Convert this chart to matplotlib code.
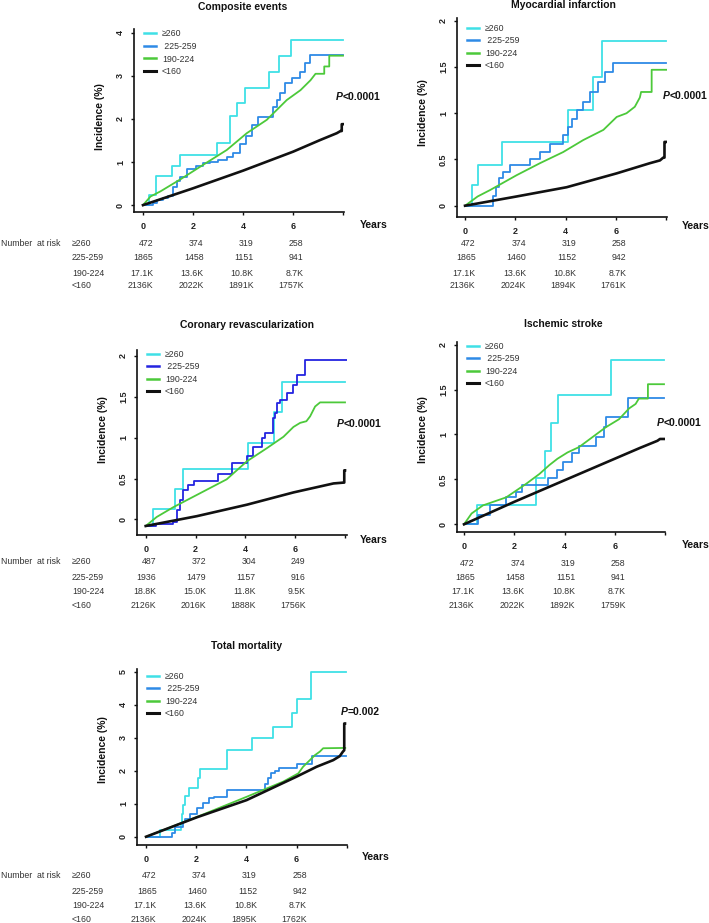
import matplotlib
matplotlib.use('Agg')
import matplotlib.pyplot as plt
from matplotlib.lines import Line2D
import matplotlib.transforms as mtrans

plt.rcParams['font.family'] = ['Liberation Sans', 'DejaVu Sans']

# ---------------- data ----------------
groups = ['\u2265260', ' 225-259', '190-224', '<160']
risk_groups = ['\u2265260', '225-259', '190-224', '<160']
risk_times = [0, 2, 4, 6]

# Panel 1: Composite events
ce_cyan_t = [0, 0.25, 0.52, 1.15, 1.48, 2.95, 3.48, 3.77, 4.08, 5.05, 5.45, 5.9, 8.0]
ce_cyan_v = [0, 0.23, 0.67, 0.91, 1.16, 1.45, 2.08, 2.38, 2.71, 3.08, 3.47, 3.84, 3.84]
ce_blue_t = [0, 0.41, 0.55, 0.8, 1.0, 1.2, 1.35, 1.48, 1.75, 2.1, 2.4, 2.68, 3.0, 3.35, 3.6, 3.88, 4.1, 4.35, 4.6, 5.2, 5.35, 5.48, 5.68, 5.95, 6.28, 6.48, 6.68, 8.0]
ce_blue_v = [0, 0.05, 0.12, 0.17, 0.2, 0.43, 0.55, 0.66, 0.85, 0.9, 0.98, 1.0, 1.05, 1.12, 1.2, 1.43, 1.6, 1.86, 2.05, 2.29, 2.45, 2.6, 2.83, 2.95, 3.1, 3.3, 3.49, 3.49]
ce_green_t = [0, 0.3, 0.7, 1.5, 2.5, 3.35, 4.15, 4.95, 5.75, 6.3, 6.7, 6.9, 7.25, 7.25, 7.45, 7.45, 8.0]
ce_green_v = [0, 0.2, 0.32, 0.6, 0.97, 1.28, 1.67, 1.98, 2.44, 2.67, 2.9, 3.05, 3.05, 3.22, 3.22, 3.47, 3.47]
ce_black_t = [0, 2.0, 4.0, 6.0, 7.08, 7.75, 7.9, 7.95, 7.95, 8.0]
ce_black_v = [0, 0.39, 0.8, 1.24, 1.51, 1.67, 1.72, 1.72, 1.88, 1.88]
ce_risk = [['472', '374', '319', '258'], ['1865', '1458', '1151', '941'],
           ['17.1K', '13.6K', '10.8K', '8.7K'], ['2136K', '2022K', '1891K', '1757K']]

# Panel 2: Myocardial infarction
mi_cyan_t = [0, 0.26, 0.5, 1.48, 4.1, 5.1, 5.43, 8.0]
mi_cyan_v = [0, 0.22, 0.44, 0.69, 1.03, 1.39, 1.78, 1.78]
mi_blue_t = [0, 1.13, 1.25, 1.36, 1.52, 1.79, 2.58, 2.98, 3.38, 3.9, 4.1, 4.24, 4.44, 4.7, 4.97, 5.3, 5.56, 5.89, 8.0]
mi_blue_v = [0, 0.1, 0.2, 0.3, 0.37, 0.44, 0.51, 0.58, 0.67, 0.76, 0.85, 0.94, 1.03, 1.12, 1.23, 1.34, 1.45, 1.54, 1.54]
mi_green_t = [0, 0.5, 1.0, 2.05, 2.98, 3.9, 4.7, 5.5, 6.03, 6.42, 6.75, 6.95, 7.0, 7.42, 7.42, 8.0]
mi_green_v = [0, 0.1, 0.17, 0.33, 0.46, 0.58, 0.71, 0.82, 0.96, 1.0, 1.07, 1.17, 1.23, 1.23, 1.47, 1.47]
mi_black_t = [0, 2.05, 4.04, 6.03, 7.35, 7.75, 7.88, 7.93, 7.93, 7.98]
mi_black_v = [0, 0.1, 0.2, 0.35, 0.46, 0.49, 0.52, 0.52, 0.69, 0.69]
mi_risk = [['472', '374', '319', '258'], ['1865', '1460', '1152', '942'],
           ['17.1K', '13.6K', '10.8K', '8.7K'], ['2136K', '2024K', '1894K', '1761K']]

# Panel 3: Coronary revascularization
cr_cyan_t = [0, 0.28, 1.18, 1.51, 4.12, 5.13, 5.46, 8.0]
cr_cyan_v = [-0.08, 0.13, 0.37, 0.62, 0.94, 1.31, 1.68, 1.68]
cr_blue_t = [0, 0.4, 1.1, 1.25, 1.38, 1.51, 1.7, 1.92, 2.92, 3.45, 4.06, 4.32, 4.66, 4.79, 5.1, 5.18, 5.26, 5.4, 5.66, 5.93, 6.07, 6.4, 8.07]
cr_blue_v = [-0.08, -0.06, -0.03, 0.11, 0.24, 0.36, 0.42, 0.47, 0.55, 0.69, 0.77, 0.89, 0.99, 1.05, 1.24, 1.3, 1.42, 1.46, 1.54, 1.64, 1.77, 1.95, 1.95]
cr_green_t = [0, 0.44, 1.11, 2.18, 3.25, 4.06, 4.86, 5.53, 5.93, 6.2, 6.45, 6.6, 6.8, 7.0, 8.0]
cr_green_v = [-0.08, 0.03, 0.15, 0.32, 0.49, 0.71, 0.87, 1.01, 1.13, 1.18, 1.2, 1.26, 1.38, 1.43, 1.43]
cr_black_t = [0, 2.05, 4.06, 5.93, 7.54, 7.94, 7.97, 7.97, 8.0]
cr_black_v = [-0.08, 0.04, 0.18, 0.33, 0.44, 0.45, 0.45, 0.6, 0.6]
cr_risk = [['487', '372', '304', '249'], ['1936', '1479', '1157', '916'],
           ['18.8K', '15.0K', '11.8K', '9.5K'], ['2126K', '2016K', '1888K', '1756K']]

# Panel 4: Ischemic stroke
is_cyan_t = [0, 0.53, 2.87, 3.24, 3.46, 3.73, 5.84, 7.96]
is_cyan_v = [0, 0.22, 0.52, 0.82, 1.13, 1.44, 1.83, 1.83]
is_blue_t = [0, 0.55, 1.02, 1.68, 2.07, 2.31, 3.33, 3.7, 3.92, 4.29, 4.58, 5.24, 5.57, 5.67, 6.54, 7.96]
is_blue_v = [0, 0.1, 0.22, 0.3, 0.36, 0.44, 0.52, 0.6, 0.69, 0.79, 0.87, 0.97, 1.08, 1.19, 1.41, 1.41]
is_green_t = [0, 0.3, 0.75, 1.68, 2.47, 3.0, 3.4, 3.72, 4.12, 4.58, 5.11, 5.64, 6.17, 6.57, 6.83, 6.96, 7.32, 7.32, 7.96]
is_green_v = [0, 0.12, 0.21, 0.3, 0.45, 0.56, 0.66, 0.73, 0.8, 0.86, 0.97, 1.08, 1.17, 1.29, 1.34, 1.4, 1.4, 1.56, 1.56]
is_black_t = [0, 2.0, 4.0, 6.0, 7.0, 7.7, 7.8, 7.96]
is_black_v = [0, 0.25, 0.49, 0.73, 0.85, 0.93, 0.95, 0.95]
is_risk = [['472', '374', '319', '258'], ['1865', '1458', '1151', '941'],
           ['17.1K', '13.6K', '10.8K', '8.7K'], ['2136K', '2022K', '1892K', '1759K']]

# Panel 5: Total mortality
tm_cyan_t = [0, 0.55, 1.4, 1.45, 1.48, 1.55, 1.7, 2.07, 2.16, 3.22, 4.21, 5.07, 5.8, 6.0, 6.56, 7.99]
tm_cyan_v = [0, 0.2, 0.42, 0.7, 0.97, 1.22, 1.48, 1.77, 2.04, 2.63, 2.98, 3.33, 3.74, 4.16, 4.98, 4.98]
tm_blue_t = [0, 0.64, 1.03, 1.17, 1.47, 1.55, 1.76, 2.03, 2.29, 2.49, 2.69, 3.22, 4.74, 4.85, 5.0, 5.15, 5.3, 6.0, 6.6, 7.96]
tm_blue_v = [0, 0, 0.1, 0.3, 0.45, 0.55, 0.7, 0.86, 1.01, 1.16, 1.21, 1.41, 1.6, 1.78, 1.92, 2.0, 2.07, 2.19, 2.45, 2.45]
tm_green_t = [0, 2.03, 4.01, 5.47, 6.07, 6.26, 6.53, 6.73, 6.93, 7.06, 7.94]
tm_green_v = [0, 0.6, 1.21, 1.67, 1.92, 2.12, 2.32, 2.47, 2.58, 2.68, 2.69]
tm_black_t = [0, 2.03, 4.01, 6.0, 6.8, 7.46, 7.72, 7.85, 7.9, 7.9, 7.93]
tm_black_v = [0, 0.59, 1.11, 1.82, 2.12, 2.32, 2.44, 2.58, 2.62, 3.43, 3.43]
tm_risk = [['472', '374', '319', '258'], ['1865', '1460', '1152', '942'],
           ['17.1K', '13.6K', '10.8K', '8.7K'], ['2136K', '2024K', '1895K', '1762K']]

CYAN = '#3FE0E6'
BLUE = '#2E8AE6'
DBLUE = '#2424E0'
GREEN = '#4CC93A'
BLACK = '#111111'
TXT = '#333333'

W, H = 709, 923
fig = plt.figure(figsize=(W / 100, H / 100), dpi=100)


def fx(x):
    return x / W


def fy(y):
    return 1 - y / H


panels = [
    dict(title='Composite events', box=(134, 29, 344, 212), xlim=(-0.36, 8.04), ylim=(-0.16, 4.09),
         yticks=[0, 1, 2, 3, 4], ylabs=['0', '1', '2', '3', '4'],
         curves=[(ce_cyan_t, ce_cyan_v, CYAN, 'step'), (ce_blue_t, ce_blue_v, BLUE, 'step'),
                 (ce_green_t, ce_green_v, GREEN, 'line'), (ce_black_t, ce_black_v, BLACK, 'line')],
         title_xy=(243, 7), ylab_xy=(100, 117), years_xy=(360, 225), leg=(144, 29.5),
         p=('<0.0001', 7.72, 2.51), risk=ce_risk, risk_y=[243, 258, 273, 286], left=True),
    dict(title='Myocardial infarction', box=(457, 18, 667, 217), xlim=(-0.32, 8.03), ylim=(-0.122, 2.03),
         yticks=[0, 0.5, 1, 1.5, 2], ylabs=['0', '0.5', '1', '1.5', '2'],
         curves=[(mi_cyan_t, mi_cyan_v, CYAN, 'step'), (mi_blue_t, mi_blue_v, BLUE, 'step'),
                 (mi_green_t, mi_green_v, GREEN, 'line'), (mi_black_t, mi_black_v, BLACK, 'line')],
         title_xy=(563, 5), ylab_xy=(423, 113), years_xy=(682, 226), leg=(467, 23.6),
         p=('<0.0001', 7.87, 1.19), risk=mi_risk, risk_y=[243, 258, 273, 286], left=False),
    dict(title='Coronary revascularization', box=(137, 350, 347, 535), xlim=(-0.35, 8.08), ylim=(-0.19, 2.07),
         yticks=[0, 0.5, 1, 1.5, 2], ylabs=['0', '0.5', '1', '1.5', '2'],
         curves=[(cr_cyan_t, cr_cyan_v, CYAN, 'step'), (cr_blue_t, cr_blue_v, DBLUE, 'step'),
                 (cr_green_t, cr_green_v, GREEN, 'line'), (cr_black_t, cr_black_v, BLACK, 'line')],
         title_xy=(247, 325), ylab_xy=(103, 430), years_xy=(360, 540), leg=(147, 349.6),
         p=('<0.0001', 7.68, 1.17), risk=cr_risk, risk_y=[562, 577, 592, 606], left=True),
    dict(title='Ischemic stroke', box=(457, 342, 665, 532), xlim=(-0.28, 8.0), ylim=(-0.086, 2.03),
         yticks=[0, 0.5, 1, 1.5, 2], ylabs=['0', '0.5', '1', '1.5', '2'],
         curves=[(is_cyan_t, is_cyan_v, CYAN, 'step'), (is_blue_t, is_blue_v, BLUE, 'step'),
                 (is_green_t, is_green_v, GREEN, 'line'), (is_black_t, is_black_v, BLACK, 'line')],
         title_xy=(563, 324), ylab_xy=(423, 430), years_xy=(682, 545), leg=(467, 341.6),
         p=('<0.0001', 7.69, 1.13), risk=is_risk, risk_y=[563, 578, 592, 606], left=False),
    dict(title='Total mortality', box=(137, 669, 347, 845), xlim=(-0.36, 8.01), ylim=(-0.25, 5.08),
         yticks=[0, 1, 2, 3, 4, 5], ylabs=['0', '1', '2', '3', '4', '5'],
         curves=[(tm_cyan_t, tm_cyan_v, CYAN, 'step'), (tm_blue_t, tm_blue_v, BLUE, 'step'),
                 (tm_green_t, tm_green_v, GREEN, 'line'), (tm_black_t, tm_black_v, BLACK, 'line')],
         title_xy=(247, 646), ylab_xy=(103, 750), years_xy=(362, 857), leg=(147, 671.6),
         p=('=0.002', 7.75, 3.77), risk=tm_risk, risk_y=[876, 891, 905, 920], left=True),
]

for pn in panels:
    l, t, r, b = pn['box']
    ax = fig.add_axes([fx(l), fy(b), (r - l) / W, (b - t) / H])
    ax.set_xlim(*pn['xlim'])
    ax.set_ylim(*pn['ylim'])
    ax.patch.set_alpha(0)
    for s in ['top', 'right']:
        ax.spines[s].set_visible(False)
    for s in ['left', 'bottom']:
        ax.spines[s].set_linewidth(1.2)
        ax.spines[s].set_color('#111111')
    handles = []
    for tt, vv, col, kind in pn['curves']:
        lw = 1.9 if col == BLACK else 1.3
        if kind == 'step':
            ln, = ax.step(tt, vv, where='post', color=col, lw=lw, zorder=3 if col != BLACK else 4)
        else:
            ln, = ax.plot(tt, vv, color=col, lw=lw, zorder=3 if col != BLACK else 4)
        handles.append(Line2D([0], [0], color=col, lw=1.8 if col != BLACK else 2.2))
    ax.set_xticks([0, 2, 4, 6, 8])
    ax.set_xticklabels(['0', '2', '4', '6', ''])
    ax.set_yticks(pn['yticks'])
    ax.set_yticklabels(pn['ylabs'])
    ax.tick_params(axis='both', direction='out', length=2.5, width=1.0, colors='#111111',
                   labelsize=6.5)
    ax.tick_params(axis='x', pad=4.5)
    ax.tick_params(axis='y', pad=4.0)
    for lab in ax.get_xticklabels() + ax.get_yticklabels():
        lab.set_fontweight('bold')
        lab.set_color('#222222')
    for lab in ax.get_yticklabels():
        lab.set_rotation(90)
        lab.set_va('center')

    lg = ax.legend(handles, groups, loc='upper left',
                   bbox_to_anchor=(fx(pn['leg'][0]), fy(pn['leg'][1])),
                   bbox_transform=fig.transFigure, frameon=False, fontsize=6.3,
                   handlelength=1.37, handletextpad=0.7, labelspacing=0.4,
                   borderpad=0, borderaxespad=0)
    for txt in lg.get_texts():
        txt.set_color(TXT)

    fig.text(fx(pn['title_xy'][0]), fy(pn['title_xy'][1]), pn['title'], ha='center', va='center',
             fontsize=7.5, fontweight='bold', color='#111111')
    fig.text(fx(pn['ylab_xy'][0]), fy(pn['ylab_xy'][1]), 'Incidence (%)', ha='center', va='center',
             rotation=90, fontsize=7.5, fontweight='bold', color='#111111')
    fig.text(fx(pn['years_xy'][0]), fy(pn['years_xy'][1]), 'Years', ha='left', va='center',
             fontsize=7.5, fontweight='bold', color='#111111')

    ptxt, px, py = pn['p']
    t1 = ax.text(px, py, 'P', fontsize=7.5, fontweight='bold', fontstyle='italic',
                 ha='left', va='center', clip_on=False, color='#111111')
    ax.annotate(ptxt, xy=(1, 0), xycoords=t1, ha='left', va='bottom', fontsize=7.5,
                fontweight='bold', color='#111111', annotation_clip=False)

    trans = mtrans.blended_transform_factory(ax.transData, fig.transFigure)
    for i, row in enumerate(pn['risk']):
        yy = fy(pn['risk_y'][i])
        for j, val in enumerate(row):
            ax.text(risk_times[j] + 0.42, yy, val, transform=trans, ha='right', va='center',
                    fontsize=6.3, color=TXT, clip_on=False)
        if pn['left']:
            fig.text(fx(72), yy, risk_groups[i], ha='left', va='center', fontsize=6.3, color=TXT)
    if pn['left']:
        fig.text(fx(1), fy(pn['risk_y'][0]), 'Number  at risk', ha='left', va='center',
                 fontsize=6.3, color=TXT)

fig.savefig('out.png', dpi=100)
